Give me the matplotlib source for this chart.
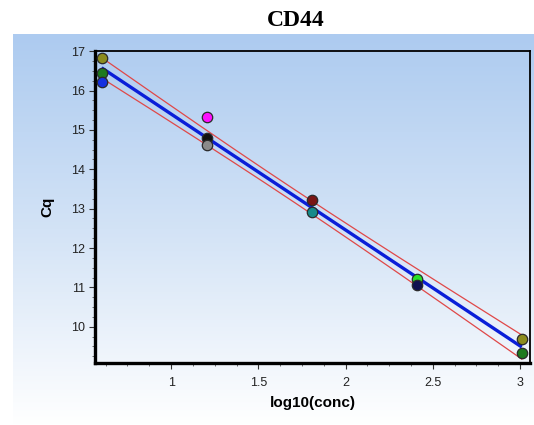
import numpy as np
import matplotlib
matplotlib.use("Agg")
import matplotlib.pyplot as plt
from matplotlib.ticker import MultipleLocator
from matplotlib.colors import LinearSegmentedColormap

# Standard-curve data: log10 of starting quantity vs quantification cycle
log_conc = [0.602, 0.602, 0.602,
            1.204, 1.204, 1.204,
            1.806, 1.806,
            2.408, 2.408,
            3.010, 3.010]
cq = [16.82, 16.46, 16.23,
      15.32, 14.80, 14.62,
      13.23, 12.92,
      11.22, 11.05,
      9.68, 9.34]
well_colors = ["#8C8C1E", "#1E7A1E", "#1530E0",
               "#FF10FF", "#101010", "#8A8A8A",
               "#7A1515", "#168A8A",
               "#28E028", "#101050",
               "#8C8C1E", "#1E7A1E"]

title = "CD44"
x_label = "log10(conc)"
y_label = "Cq"

W, H, DPI = 534, 425, 100
fig = plt.figure(figsize=(W / DPI, H / DPI), dpi=DPI)
fig.patch.set_facecolor("white")

# Light blue backdrop fading to white toward the bottom
bg = fig.add_axes([0, 0, 1, 1], zorder=0)
bg.set_xlim(0, W)
bg.set_ylim(H, 0)
bg.axis("off")
grad = np.linspace(0, 1, 256).reshape(-1, 1)
cmap = LinearSegmentedColormap.from_list("panel", ["#ADCBF0", "#D3E3F6", "#FFFFFF"])
bg.imshow(grad, cmap=cmap, aspect="auto", extent=[13, W, 425, 34], zorder=0)

left, right = 95 / W, 530 / W
top, bottom = 1 - 50.7 / H, 1 - 363 / H
ax = fig.add_axes([left, bottom, right - left, top - bottom], zorder=1)
ax.patch.set_alpha(0)

x = np.array(log_conc)
y = np.array(cq)

# Least-squares fit and 95% confidence band
slope, intercept = np.polyfit(x, y, 1)
n = len(x)
resid = y - (slope * x + intercept)
s = np.sqrt(np.sum(resid ** 2) / (n - 2))
xm = x.mean()
sxx = np.sum((x - xm) ** 2)
xf = np.linspace(x.min(), x.max(), 200)
yf = slope * xf + intercept
half = 2.228 * s * np.sqrt(1 / n + (xf - xm) ** 2 / sxx)

ax.plot(xf, yf + half, color="#E04848", lw=0.9, zorder=2)
ax.plot(xf, yf - half, color="#E04848", lw=0.9, zorder=2)
ax.plot(xf, yf, color="#0A1ED8", lw=2.4, zorder=3, solid_capstyle="butt")

for xi, yi, c in zip(x, y, well_colors):
    ax.plot(xi, yi, marker="o", ms=7.5, mfc=c, mec="#2A2A2A", mew=0.9,
            ls="none", zorder=4)

ax.set_xlim(0.564, 3.057)
ax.set_ylim(9.077, 17.015)

ax.xaxis.set_major_locator(MultipleLocator(0.5))
ax.xaxis.set_minor_locator(MultipleLocator(0.125))
ax.yaxis.set_major_locator(MultipleLocator(1))
ax.yaxis.set_minor_locator(MultipleLocator(0.25))

tick_font = dict(family="Liberation Sans", size=9)
ax.set_xticks([1, 1.5, 2, 2.5, 3])
ax.set_xticklabels(["1", "1.5", "2", "2.5", "3"], **tick_font, color="#222222")
ax.set_yticks([10, 11, 12, 13, 14, 15, 16, 17])
ax.set_yticklabels([str(v) for v in range(10, 18)], **tick_font, color="#222222")

ax.tick_params(which="major", direction="out", length=4, width=0.8, color="#333333")
ax.tick_params(which="minor", direction="out", length=2.5, width=0.6, color="#555555")
ax.tick_params(axis="x", which="major", pad=6)
ax.tick_params(axis="y", which="major", pad=3)
ax.tick_params(top=False, right=False)

for side in ("left", "bottom"):
    ax.spines[side].set_linewidth(2.4)
    ax.spines[side].set_color("black")
for side in ("top", "right"):
    ax.spines[side].set_linewidth(1.3)
    ax.spines[side].set_color("black")

ax.set_xlabel(x_label, family="Liberation Sans", weight="bold", size=11, labelpad=5)
ax.set_ylabel(y_label, family="Liberation Sans", weight="bold", size=11, labelpad=12)

fig.text(296 / W, 1 - 21 / H, title, family="Liberation Serif", weight="bold",
         size=17, ha="center", va="center")

fig.savefig("out.png", dpi=DPI)
